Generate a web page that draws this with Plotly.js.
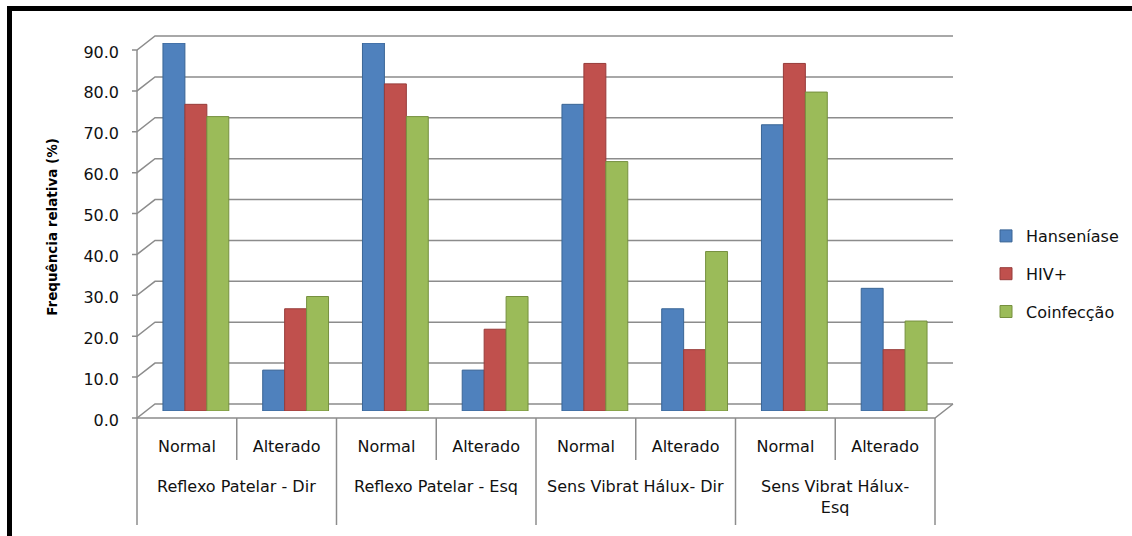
<!DOCTYPE html>
<html><head><meta charset="utf-8">
<script src="https://cdn.plot.ly/plotly-3.0.1.min.js"></script>
<style>html,body{margin:0;padding:0;background:#fff;} #chart{width:1132px;height:536px;}</style>
</head><body><div id="chart"></div>
<script>
// ---- data ----
const groups = ["Reflexo Patelar - Dir", "Reflexo Patelar - Esq", "Sens Vibrat Hálux- Dir", "Sens Vibrat Hálux-<br>Esq"];
const conditions = ["Normal", "Alterado"];
const seriesNames = ["Hanseníase", "HIV+", "Coinfecção"];
const hanseniase = [90, 10, 90, 10, 75, 25, 70, 30];
const hiv = [75, 25, 80, 20, 85, 15, 85, 15];
const coinfeccao = [72, 28, 72, 28, 61, 39, 78, 22];
const yTicks = [0, 10, 20, 30, 40, 50, 60, 70, 80, 90];
const yTitle = "Frequência relativa (%)";

// ---- geometry (pixels) ----
const W = 1132, H = 536, L = 146, R = 944, T = 43, B = 411;
const PW = R - L, PH = B - T;
const DX = 9, DY = 7;           // half of the 3D depth offset
const fx = X => (X - L) / PW;   // pixel -> paper
const fy = Y => (B - Y) / PH;
const ox = DX / PW, oy = DY / PH;
const yMax = yTicks[yTicks.length - 1];
const nCat = hanseniase.length;

const xIdx = hanseniase.map((_, i) => i);
const tickText = groups.flatMap(() => conditions);

const colors = ['#4F81BD', '#C0504D', '#9BBB59'];
const lineColors = ['#3A6595', '#973C3A', '#76903F'];
const values = [hanseniase, hiv, coinfeccao];

const font = "DejaVu Sans, Verdana, sans-serif";
const gridColor = '#8c8c8c';

const traces = values.map((v, s) => ({
  type: 'bar', name: seriesNames[s], x: xIdx, y: v,
  legendgroup: 'g' + s,
  marker: {color: colors[s], line: {color: lineColors[s], width: 1}},
  hoverinfo: 'skip'
}));

const shapes = [];
// outer frame (top & left)
shapes.push({type: 'line', xref: 'paper', yref: 'paper', x0: fx(7), x1: fx(1140), y0: fy(8.5), y1: fy(8.5), line: {color: '#000', width: 5}});
shapes.push({type: 'line', xref: 'paper', yref: 'paper', x0: fx(9.5), x1: fx(9.5), y0: fy(6), y1: fy(540), line: {color: '#000', width: 5}});
// gridlines on side + back wall
const tickPx = 5 / PW;
yTicks.forEach(v => {
  const yv = v / yMax;
  shapes.push({type: 'path', xref: 'paper', yref: 'paper', layer: 'below',
    path: `M${-ox - tickPx},${yv - oy} L${-ox},${yv - oy} L${ox},${yv + oy} L${1 + ox},${yv + oy}`,
    line: {color: gridColor, width: 1.5}});
});
// front vertical axis
shapes.push({type: 'path', xref: 'paper', yref: 'paper', layer: 'below',
  path: `M${-ox},${-oy} L${-ox},${1 - oy}`, line: {color: gridColor, width: 1.5}});
// floor front edge + right diagonal
shapes.push({type: 'path', xref: 'paper', yref: 'paper', layer: 'below',
  path: `M${-ox},${-oy} L${1 - ox},${-oy} L${1 + ox},${oy}`, line: {color: gridColor, width: 1.5}});
// category dividers
for (let k = 0; k <= nCat; k++) {
  const xv = k / nCat - ox;
  const yEnd = (k % 2 === 0) ? fy(525) : fy(460);
  shapes.push({type: 'line', xref: 'paper', yref: 'paper', x0: xv, x1: xv, y0: -oy, y1: yEnd,
    line: {color: gridColor, width: 1.5}});
}

const annotations = groups.map((g, i) => ({
  text: g, xref: 'x', yref: 'paper', x: 2 * i + 0.5, xshift: -DX, y: fy(475),
  xanchor: 'center', yanchor: 'top', showarrow: false, align: 'center',
  font: {family: font, size: 16, color: '#111'}
}));

const layout = {
  width: W, height: H,
  margin: {l: L, r: W - R, t: T, b: H - B, pad: 0},
  paper_bgcolor: '#fff', plot_bgcolor: 'rgba(0,0,0,0)',
  barmode: 'group', bargap: 0.34, bargroupgap: 0,
  showlegend: true,
  legend: {xref: 'container', yref: 'container', x: 986 / W, y: 1 - 274 / H,
    xanchor: 'left', yanchor: 'middle', font: {family: font, size: 16, color: '#111'},
    tracegroupgap: 14, bgcolor: 'rgba(0,0,0,0)'},
  xaxis: {range: [-0.5, nCat - 0.5], tickvals: xIdx, ticktext: tickText,
    showgrid: false, zeroline: false, showline: false, ticks: '',
    ticklabelshift: -DX, ticklabelstandoff: 24,
    tickfont: {family: font, size: 16, color: '#111'}, fixedrange: true},
  yaxis: {range: [0, yMax], tickvals: yTicks, tickformat: '.1f',
    showgrid: false, zeroline: false, showline: false, ticks: '',
    ticklabelshift: DY + 2, ticklabelstandoff: 26,
    tickfont: {family: font, size: 16, color: '#111'},
    title: {text: yTitle, standoff: 22, font: {family: font, size: 13.5, color: '#000', weight: 'bold'}},
    fixedrange: true},
  shapes: shapes,
  annotations: annotations
};

Plotly.newPlot('chart', traces, layout, {displayModeBar: false, staticPlot: true});
</script>
</body></html>
